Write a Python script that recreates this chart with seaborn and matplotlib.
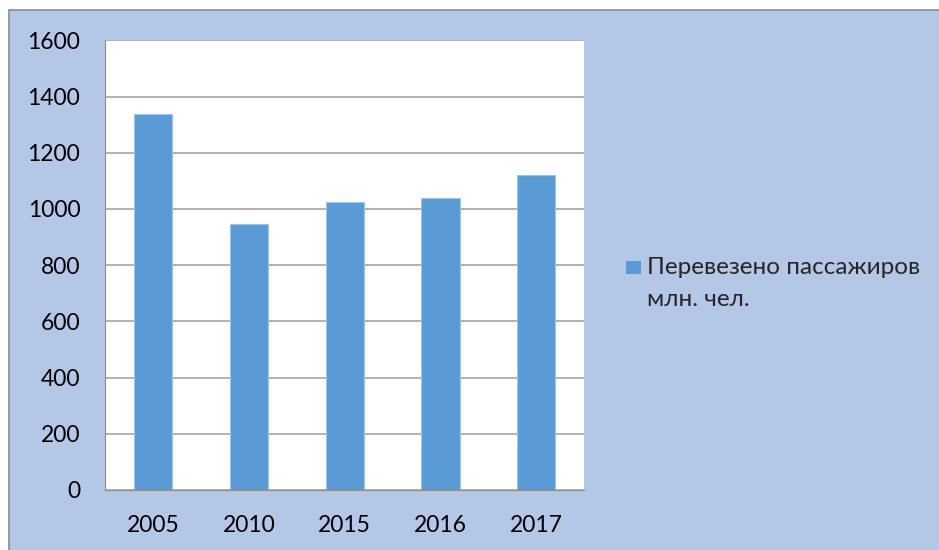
import matplotlib
matplotlib.use("Agg")
import matplotlib.pyplot as plt
import seaborn as sns
import pandas as pd
from matplotlib.patches import Rectangle

# Data
years = ["2005", "2010", "2015", "2016", "2017"]
passengers = [1338, 947, 1025, 1040, 1121]
series_label = ["Перевезено пассажиров", "млн. чел."]
y_ticks = [0, 200, 400, 600, 800, 1000, 1200, 1400, 1600]

bar_color = "#5B9BD5"
panel_color = "#B4C7E7"

df = pd.DataFrame({"year": years, "value": passengers})

sns.set_style("white")
plt.rcParams["font.family"] = ["Lato", "DejaVu Sans"]

fig = plt.figure(figsize=(9.39, 5.5), dpi=100)
fig.patch.set_facecolor("white")
# chart area background with thin grey border (runs off the right and bottom edges)
fig.patches.append(Rectangle((9 / 939, -0.02), 1.02, 1.02 - 10 / 550, transform=fig.transFigure,
                             facecolor=panel_color, edgecolor="#8C8C8C", linewidth=1.2, zorder=-5))

ax = fig.add_axes([105.3 / 939, 60 / 550, 478.7 / 939, 449.7 / 550])
ax.set_facecolor("white")
sns.barplot(data=df, x="year", y="value", color=bar_color, width=0.4,
            saturation=1, edgecolor="#9DC3E6", linewidth=0.8, ax=ax)

ax.set_ylim(0, 1600)
ax.set_yticks(y_ticks)
ax.set_xlabel("")
ax.set_ylabel("")
ax.yaxis.grid(True, color="#A6A6A6", linewidth=1.2)
ax.set_axisbelow(True)
for side in ["top", "right"]:
    ax.spines[side].set_visible(False)
ax.spines["left"].set_color("#8C8C8C")
ax.spines["bottom"].set_color("#8C8C8C")
ax.tick_params(axis="y", length=0, pad=18, labelsize=16.5, labelcolor="black")
ax.tick_params(axis="x", length=0, pad=18, labelsize=16.5, labelcolor="black")

# legend box and text
fig.patches.append(Rectangle((626 / 939, 1 - 274 / 550), 15 / 939, 13 / 550,
                             transform=fig.transFigure, facecolor=bar_color, edgecolor="none"))
fig.text(647 / 939, 1 - 268 / 550, series_label[0], fontsize=17.5, va="center", ha="left")
fig.text(647 / 939, 1 - 300 / 550, series_label[1], fontsize=17.5, va="center", ha="left")

fig.savefig("out.png", dpi=100, facecolor=fig.get_facecolor())
